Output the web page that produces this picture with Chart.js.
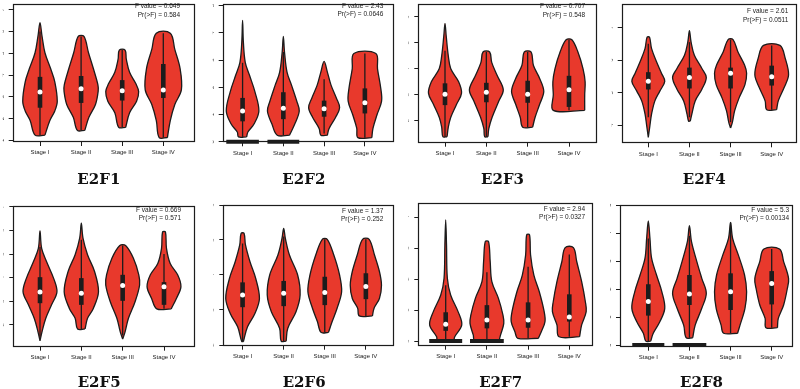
<!DOCTYPE html>
<html>
<head>
<meta charset="utf-8">
<script src="https://cdn.jsdelivr.net/npm/chart.js@4.4.1/dist/chart.umd.min.js"></script>
<style>
  html, body { margin: 0; padding: 0; background: #fff; width: 800px; height: 389px; overflow: hidden; }
  body { position: relative; }
  canvas { position: absolute; }
</style>
</head>
<body>
<script>
const stages = ['Stage I', 'Stage II', 'Stage III', 'Stage IV'];
const genes = ['E2F1', 'E2F2', 'E2F3', 'E2F4', 'E2F5', 'E2F6', 'E2F7', 'E2F8'];
const fValues = ['0.649', '2.43', '0.707', '2.61', '0.669', '1.37', '2.94', '5.3'];
const pValues = ['0.584', '0.0646', '0.548', '0.0511', '0.571', '0.252', '0.0327', '0.00134'];
const yTicks = [
  [1, 2, 3, 4, 5, 6, 7], [0, 1, 2, 3, 4, 5], [2, 3, 4, 5, 6], [4, 5, 6, 7],
  [2, 3, 4, 5, 6, 7], [2, 3, 4, 5, 6], [0, 1, 2, 3, 4], [0, 1, 2, 3, 4, 5]
];

// violin outlines: [expression, half width] from bottom to top, one list per stage
const e2f1Violins = [
  [[1.24, 0.12], [1.91, 0.24], [2.35, 0.36], [2.8, 0.42], [3.69, 0.36], [4.29, 0.26], [5.03, 0.12], [5.78, 0.05], [6.41, 0]],
  [[1.46, 0.09], [2.06, 0.19], [2.65, 0.35], [3.25, 0.415], [3.54, 0.41], [4.29, 0.3], [5.03, 0.18], [5.78, 0.07]],
  [[1.6, 0.085], [2.27, 0.18], [2.8, 0.35], [3.24, 0.4], [3.61, 0.33], [4.13, 0.18], [4.73, 0.1], [5.15, 0.07]],
  [[1.13, 0.1], [1.91, 0.17], [2.65, 0.28], [3.32, 0.44], [4.29, 0.41], [5.18, 0.28], [5.93, 0.17]]
];
const e2f2Violins = [
  [[0.18, 0.1], [0.36, 0.13], [0.65, 0.28], [1.13, 0.4], [1.85, 0.3], [2.44, 0.17], [2.92, 0.065], [3.64, 0.02], [4.46, 0]],
  [[0.24, 0.15], [0.65, 0.28], [1.13, 0.39], [1.49, 0.33], [2.08, 0.2], [2.56, 0.09], [3.27, 0.03], [3.87, 0]],
  [[0.24, 0.08], [0.48, 0.12], [0.89, 0.28], [1.25, 0.38], [1.61, 0.3], [2.08, 0.17], [2.56, 0.08], [2.95, 0]],
  [[0.15, 0.17], [0.5, 0.2], [1.0, 0.3], [1.49, 0.41], [1.96, 0.39], [2.68, 0.31], [3.24, 0.27]]
];
const e2f3Violins = [
  [[1.38, 0.05], [1.75, 0.08], [2.13, 0.14], [2.63, 0.28], [3.06, 0.4], [3.5, 0.33], [4.0, 0.14], [4.5, 0.08], [5.25, 0.03], [5.75, 0]],
  [[1.38, 0.04], [1.69, 0.06], [2.13, 0.14], [2.75, 0.3], [3.19, 0.41], [3.75, 0.26], [4.25, 0.13], [4.65, 0.08]],
  [[1.75, 0.12], [2.13, 0.18], [2.63, 0.29], [3.13, 0.39], [3.63, 0.29], [4.13, 0.14], [4.65, 0.08]],
  [[2.4, 0.38], [3.0, 0.38], [3.5, 0.39], [4.0, 0.34], [4.63, 0.22], [5.12, 0.07]]
];
const e2f4Violins = [
  [[3.63, 0], [4.0, 0.04], [4.35, 0.08], [4.75, 0.16], [5.05, 0.28], [5.35, 0.4], [5.6, 0.32], [5.95, 0.2], [6.35, 0.08], [6.7, 0.03]],
  [[4.13, 0.02], [4.35, 0.06], [4.75, 0.14], [5.1, 0.3], [5.47, 0.41], [5.75, 0.3], [6.15, 0.12], [6.55, 0.04], [6.9, 0]],
  [[3.92, 0], [4.1, 0.045], [4.45, 0.1], [4.85, 0.21], [5.25, 0.35], [5.6, 0.39], [5.85, 0.34], [6.25, 0.18], [6.63, 0.06]],
  [[4.48, 0.12], [4.75, 0.16], [5.15, 0.3], [5.55, 0.41], [6.05, 0.33], [6.45, 0.2]]
];
const e2f5Violins = [
  [[1.33, 0], [1.72, 0.05], [2.28, 0.14], [2.85, 0.28], [3.4, 0.41], [3.97, 0.33], [4.67, 0.16], [5.24, 0.04], [5.98, 0]],
  [[1.83, 0.09], [2.28, 0.15], [2.7, 0.29], [3.4, 0.415], [4.26, 0.32], [4.97, 0.15], [5.67, 0.04], [6.3, 0]],
  [[1.4, 0], [1.72, 0.06], [2.28, 0.14], [2.98, 0.3], [3.69, 0.41], [4.12, 0.39], [4.82, 0.26], [5.36, 0.07]],
  [[2.68, 0.175], [3.12, 0.3], [3.62, 0.41], [4.12, 0.33], [4.6, 0.15], [5.24, 0.06], [5.93, 0.035]]
];
const e2f6Violins = [
  [[2.1, 0.02], [2.52, 0.12], [2.9, 0.3], [3.33, 0.41], [3.9, 0.32], [4.38, 0.18], [4.86, 0.07], [5.19, 0.035]],
  [[2.11, 0.06], [2.48, 0.1], [2.95, 0.3], [3.43, 0.4], [4.0, 0.34], [4.57, 0.14], [5.05, 0.04], [5.33, 0]],
  [[2.36, 0.09], [2.67, 0.18], [3.05, 0.3], [3.52, 0.41], [4.0, 0.36], [4.57, 0.22], [5.02, 0.06]],
  [[2.83, 0.16], [3.05, 0.2], [3.33, 0.33], [3.71, 0.38], [4.1, 0.33], [4.57, 0.21], [5.02, 0.08]]
];
const e2f7Violins = [
  [[0.03, 0.2], [0.14, 0.22], [0.52, 0.39], [0.95, 0.3], [1.49, 0.12], [2.03, 0.04], [3.1, 0.02], [3.91, 0]],
  [[0.03, 0.3], [0.19, 0.33], [0.57, 0.41], [0.84, 0.39], [1.38, 0.28], [1.92, 0.12], [2.57, 0.08], [3.21, 0.04]],
  [[0.09, 0.25], [0.3, 0.32], [0.63, 0.41], [0.95, 0.39], [1.6, 0.27], [2.13, 0.14], [2.78, 0.06], [3.43, 0.035]],
  [[0.14, 0.25], [0.52, 0.3], [0.95, 0.41], [1.27, 0.39], [1.92, 0.3], [2.57, 0.18], [3.02, 0.1]]
];
const e2f8Violins = [
  [[0.14, 0.06], [0.42, 0.12], [0.83, 0.28], [1.31, 0.4], [1.9, 0.33], [2.5, 0.2], [3.1, 0.08], [3.81, 0.04], [4.43, 0]],
  [[0.26, 0.08], [0.71, 0.14], [1.31, 0.3], [1.85, 0.41], [2.38, 0.3], [2.98, 0.18], [3.69, 0.05], [4.26, 0]],
  [[0.42, 0.17], [0.71, 0.23], [1.31, 0.35], [1.9, 0.39], [2.5, 0.34], [3.21, 0.19], [3.81, 0.05], [4.38, 0]],
  [[0.62, 0.14], [0.95, 0.16], [1.43, 0.29], [2.02, 0.38], [2.38, 0.41], [2.98, 0.29], [3.43, 0.19]]
];

// [q1, median, q3] per stage
const e2f1Boxes = [[2.5, 3.22, 3.92], [2.72, 3.37, 3.96], [2.83, 3.28, 3.77], [2.95, 3.31, 4.51]];
const e2f2Boxes = [[0.75, 1.13, 1.61], [0.83, 1.23, 1.82], [0.92, 1.21, 1.51], [1.04, 1.43, 1.96]];
const e2f3Boxes = [[2.6, 3.02, 3.44], [2.71, 3.1, 3.46], [2.69, 3.02, 3.54], [2.53, 3.19, 3.73]];
const e2f4Boxes = [[5.1, 5.35, 5.63], [5.13, 5.47, 5.77], [5.13, 5.6, 5.77], [5.22, 5.49, 5.83]];
const e2f5Boxes = [[2.92, 3.39, 4.02], [2.85, 3.34, 3.98], [3.02, 3.67, 4.12], [2.85, 3.62, 3.81]];
const e2f6Boxes = [[3.08, 3.43, 3.79], [3.11, 3.48, 3.83], [3.14, 3.5, 3.95], [3.31, 3.67, 4.05]];
const e2f7Boxes = [[0.33, 0.54, 0.93], [0.41, 0.68, 1.16], [0.43, 0.68, 1.25], [0.63, 0.78, 1.51]];
const e2f8Boxes = [[1.05, 1.55, 2.17], [1.43, 1.82, 2.5], [1.25, 1.9, 2.56], [1.45, 2.2, 2.64]];

// [low, high] whisker ends per stage
const e2f1Whiskers = [[1.24, 6.0], [1.46, 5.78], [1.6, 5.15], [1.13, 5.93]];
const e2f2Whiskers = [[0.18, 2.9], [0.24, 3.3], [0.3, 2.3], [0.15, 3.24]];
const e2f3Whiskers = [[1.38, 4.7], [1.38, 4.65], [1.75, 4.65], [2.4, 5.12]];
const e2f4Whiskers = [[4.25, 6.5], [4.25, 6.55], [4.1, 6.63], [4.48, 6.45]];
const e2f5Whiskers = [[1.5, 5.3], [1.83, 5.6], [1.55, 5.36], [2.68, 5.0]];
const e2f6Whiskers = [[2.1, 4.9], [2.11, 5.1], [2.36, 5.02], [2.83, 5.02]];
const e2f7Whiskers = [[0.03, 1.8], [0.03, 2.22], [0.09, 2.4], [0.14, 2.8]];
const e2f8Whiskers = [[0.14, 3.8], [0.26, 3.9], [0.42, 4.38], [0.62, 3.43]];

// half width of the pile of zero values drawn at y = 0
const zeroBars = [[0, 0, 0, 0], [0.4, 0.39, 0, 0], [0, 0, 0, 0], [0, 0, 0, 0],
                  [0, 0, 0, 0], [0, 0, 0, 0], [0.4, 0.41, 0, 0], [0.39, 0.41, 0, 0]];

const violins = [e2f1Violins, e2f2Violins, e2f3Violins, e2f4Violins, e2f5Violins, e2f6Violins, e2f7Violins, e2f8Violins];
const boxes = [e2f1Boxes, e2f2Boxes, e2f3Boxes, e2f4Boxes, e2f5Boxes, e2f6Boxes, e2f7Boxes, e2f8Boxes];
const whiskers = [e2f1Whiskers, e2f2Whiskers, e2f3Whiskers, e2f4Whiskers, e2f5Whiskers, e2f6Whiskers, e2f7Whiskers, e2f8Whiskers];

// page layout of each panel (px): plot box, first/last stage x, y range, title centre, stats text anchor
const panels = [
  { L: 12.7, T: 0.5, R: 195, B: 142, p1: 40, p4: 163.3, yMin: 0.924, yMax: 7.27, tx: 101.7, sx: 180, sy: 6.7 },
  { L: 222.7, T: 0.5, R: 395, B: 142.3, p1: 242.7, p4: 365.7, yMin: -0.02, yMax: 5.06, tx: 300, sx: 383.3, sy: 6 },
  { L: 418.3, T: 0.5, R: 596.7, B: 142.7, p1: 445, p4: 569, yMin: 1.15, yMax: 6.5, tx: 508.3, sx: 585, sy: 6.7 },
  { L: 621.7, T: 1, R: 796.7, B: 143.3, p1: 648.3, p4: 771.7, yMin: 3.45, yMax: 7.72, tx: 711.7, sx: 788.3, sy: 11.7 },
  { L: 13.3, T: 206, R: 195, B: 346.7, p1: 40, p4: 164, yMin: 1.08, yMax: 7.03, tx: 101.7, sx: 181, sy: 210 },
  { L: 223.3, T: 205, R: 395, B: 345.7, p1: 242.7, p4: 366.7, yMin: 1.98, yMax: 6.0, tx: 300, sx: 383.3, sy: 211 },
  { L: 418.3, T: 203.3, R: 593, B: 345.7, p1: 445.7, p4: 569.3, yMin: -0.15, yMax: 4.45, tx: 508.3, sx: 585, sy: 209.3 },
  { L: 620, T: 205, R: 793, B: 346.7, p1: 648.3, p4: 771.7, yMin: -0.06, yMax: 5.0, tx: 711.7, sx: 789, sy: 210 }
];

const RED = '#e8392c';
const INK = '#1c1c1c';

// box round the plot area
const framePlugin = {
  id: 'frame',
  afterDatasetsDraw(chart) {
    const { ctx, chartArea: a } = chart;
    const l = Math.round(a.left) + 0.5, t = Math.round(a.top) + 0.5;
    const r = Math.round(a.right) - 0.5, b = Math.round(a.bottom) - 0.5;
    ctx.save();
    ctx.strokeStyle = INK;
    ctx.lineWidth = 1.2;
    ctx.strokeRect(l, t, r - l, b - t);
    ctx.restore();
  }
};

// "F value" / "Pr(>F)" note in the top right corner
const statsPlugin = {
  id: 'stats',
  afterDraw(chart, args, opts) {
    const ctx = chart.ctx;
    ctx.save();
    ctx.font = '6.5px "Liberation Sans", Arial, sans-serif';
    ctx.fillStyle = '#222';
    ctx.textAlign = 'right';
    ctx.textBaseline = 'middle';
    opts.lines.forEach((line, k) => ctx.fillText(line, opts.x, opts.y + k * 8.4));
    ctx.restore();
  }
};

function buildDatasets(i) {
  const sets = [];
  violins[i].forEach((shape, k) => {
    const c = k + 1;
    const rightSide = shape.map(([v, w]) => ({ x: c + w, y: v }));
    const leftSide = shape.slice().reverse().filter(([v, w]) => w > 0).map(([v, w]) => ({ x: c - w, y: v }));
    const outline = rightSide.concat(leftSide);
    outline.push(outline[0]);
    sets.push({
      data: outline, fill: 'shape', backgroundColor: RED, borderColor: INK,
      borderWidth: 1.3, tension: 0.35, pointRadius: 0, order: 5, clip: false
    });
    const [lo, hi] = whiskers[i][k];
    sets.push({
      data: [{ x: c, y: lo }, { x: c, y: hi }], borderColor: INK, borderWidth: 1.3,
      pointRadius: 0, order: 4, clip: false
    });
    const [q1, med, q3] = boxes[i][k];
    sets.push({
      data: [{ x: c, y: q1 }, { x: c, y: q3 }], borderColor: INK, borderWidth: 4.6,
      borderCapStyle: 'butt', pointRadius: 0, order: 3, clip: false
    });
    sets.push({
      data: [{ x: c, y: med }], showLine: false, pointRadius: 2.5,
      pointBackgroundColor: '#fff', pointBorderWidth: 0, pointBorderColor: '#fff', order: 2, clip: false
    });
    const zw = zeroBars[i][k];
    if (zw > 0) {
      sets.push({
        data: [{ x: c - zw, y: 0 }, { x: c + zw, y: 0 }], borderColor: INK, borderWidth: 4,
        borderCapStyle: 'butt', pointRadius: 0, order: 1, clip: false
      });
    }
  });
  return sets;
}

panels.forEach((p, i) => {
  const top = i < 4 ? 0 : 195;
  const H = i < 4 ? 195 : 200;
  const titleY = i < 4 ? 180 : 383;
  const left = Math.round(Math.min(p.L - 14, 2 * p.tx - p.R - 3));
  const W = Math.round(2 * (p.tx - left));
  const titleH = 18;
  const padBottom = H - (titleY - top) - titleH / 2;
  const yW = 10;
  const xH = H - padBottom - titleH - (p.B - top);
  const s = (p.p4 - p.p1) / 3;

  const canvas = document.createElement('canvas');
  canvas.width = W;
  canvas.height = H;
  canvas.style.left = left + 'px';
  canvas.style.top = top + 'px';
  canvas.style.width = W + 'px';
  canvas.style.height = H + 'px';
  document.body.appendChild(canvas);

  const tickFont = { family: '"Liberation Sans", Arial, sans-serif', size: 6 };

  new Chart(canvas, {
    type: 'line',
    data: { datasets: buildDatasets(i) },
    plugins: [framePlugin, statsPlugin],
    options: {
      responsive: false,
      devicePixelRatio: 1,
      animation: false,
      events: [],
      layout: { padding: { left: p.L - left - yW, right: left + W - p.R, top: p.T - top, bottom: padBottom } },
      plugins: {
        legend: { display: false },
        tooltip: { enabled: false },
        title: {
          display: true, text: genes[i], position: 'bottom', padding: 0, color: '#111',
          font: { family: '"DejaVu Serif", serif', size: 15, weight: 'bold', lineHeight: 1.2 }
        },
        stats: {
          lines: ['F value = ' + fValues[i], 'Pr(>F) = ' + pValues[i]],
          x: p.sx - left, y: p.sy - top
        }
      },
      scales: {
        x: {
          type: 'linear',
          min: 1 + (p.L - p.p1) / s,
          max: 1 + (p.R - p.p1) / s,
          afterBuildTicks: sc => { sc.ticks = stages.map((_, k) => ({ value: k + 1 })); },
          afterFit: sc => { sc.height = xH; sc.paddingLeft = 0; sc.paddingRight = 0; },
          ticks: {
            autoSkip: false, minRotation: 0, maxRotation: 0, padding: 3, color: '#222', font: tickFont,
            callback: v => stages[v - 1]
          },
          grid: { drawOnChartArea: false, drawTicks: true, tickLength: 4, color: INK },
          border: { display: false }
        },
        y: {
          type: 'linear',
          min: p.yMin,
          max: p.yMax,
          afterBuildTicks: sc => { sc.ticks = yTicks[i].map(v => ({ value: v })); },
          afterFit: sc => { sc.width = yW; sc.paddingTop = 0; sc.paddingBottom = 0; },
          ticks: {
            minRotation: 90, maxRotation: 90, crossAlign: 'center', padding: 5, color: '#333', font: tickFont,
            callback: v => String(v)
          },
          grid: { drawOnChartArea: false, drawTicks: true, tickLength: 4, color: INK },
          border: { display: false }
        }
      }
    }
  });
});
</script>
</body>
</html>
